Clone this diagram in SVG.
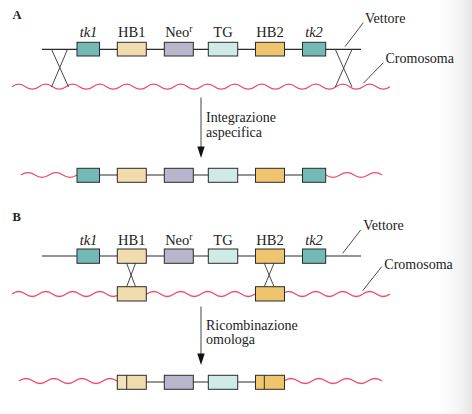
<svg xmlns="http://www.w3.org/2000/svg" width="472" height="414" viewBox="0 0 472 414" font-family="'Liberation Serif', 'Times New Roman', serif">
<defs>
<linearGradient id="edge" x1="0" y1="0" x2="1" y2="0">
<stop offset="0" stop-color="#ffffff" stop-opacity="0"/>
<stop offset="1" stop-color="#e6e6e6"/>
</linearGradient>
</defs>
<style>
text{font-family:"Liberation Serif","Times New Roman",serif;font-size:14px;fill:#222}
.gene{font-size:14.5px}
.ital{font-style:italic}
.panel{font-weight:bold;font-size:12.5px}
.box{stroke:#2b2b2b;stroke-width:1}
.tk{fill:#72bab3}
.hb1{fill:#f0dcad}
.neo{fill:#b8b6cd}
.tg{fill:#d0ebe6}
.hb2{fill:#efc46e}
.wave{fill:none;stroke:#ec4d67;stroke-width:1.3}
.ln{stroke:#2b2b2b;stroke-width:1.2;fill:none}
.thin{stroke:#333;stroke-width:0.9;fill:none}
.arr{stroke:#444;stroke-width:1}
.head{fill:#111}
</style>
<rect x="0" y="0" width="472" height="414" fill="#fff"/>
<rect x="430" y="0" width="42" height="414" fill="url(#edge)"/>

<text class="panel" x="12.5" y="18.5">A</text>
<text class="panel" x="12.5" y="220.7">B</text>

<g id="connectors">
  <path class="wave" d="M12,86.7 q6.75,-5 13.5,0 t13.5,0 t13.5,0 t13.5,0 t13.5,0 t13.5,0 t13.5,0 t13.5,0 t13.5,0 t13.5,0 t13.5,0 t13.5,0 t13.5,0 t13.5,0 t13.5,0 t13.5,0 t13.5,0 t13.5,0 t13.5,0 t13.5,0 t13.5,0 t13.5,0 t13.5,0 t13.5,0 t13.5,0 t13.5,0 t13.5,0 t13.5,0"/>
  <line class="ln" x1="42" y1="49.3" x2="361" y2="49.3"/>
  <line class="thin" x1="51.5" y1="49.3" x2="68.5" y2="87"/>
  <line class="thin" x1="67.5" y1="49.3" x2="51.5" y2="87"/>
  <line class="thin" x1="335.3" y1="49.3" x2="352" y2="87"/>
  <line class="thin" x1="352" y1="49.3" x2="335.3" y2="87"/>
  <line class="thin" x1="345" y1="46.7" x2="363.3" y2="22.7"/>
  <line class="thin" x1="363.3" y1="83.3" x2="383.3" y2="62.7"/>
  <line class="arr" x1="201" y1="97.5" x2="201" y2="148"/>
  <polygon class="head" points="197.3,146.5 204.7,146.5 201,158"/>
  <path class="wave" d="M21,175 q7,-4.6 14,0 t14,0 t14,0 t14,0"/>
  <path class="wave" d="M326,175 q7,4.6 14,0 t14,0 t14,0 t14,0"/>
  <line class="ln" x1="99" y1="175" x2="302" y2="175"/>
  <path class="wave" d="M12,294 q6.75,-5 13.5,0 t13.5,0 t13.5,0 t13.5,0 t13.5,0 t13.5,0 t13.5,0 t13.5,0 t13.5,0 t13.5,0 t13.5,0 t13.5,0 t13.5,0 t13.5,0 t13.5,0 t13.5,0 t13.5,0 t13.5,0 t13.5,0 t13.5,0 t13.5,0 t13.5,0 t13.5,0 t13.5,0 t13.5,0 t13.5,0 t13.5,0 t13.5,0"/>
  <line class="ln" x1="42" y1="256" x2="361" y2="256"/>
  <line class="thin" x1="126.7" y1="263.3" x2="135.5" y2="286.7"/>
  <line class="thin" x1="135.5" y1="263.3" x2="126.7" y2="286.7"/>
  <line class="thin" x1="264.3" y1="263.3" x2="274" y2="286.7"/>
  <line class="thin" x1="274" y1="263.3" x2="264.3" y2="286.7"/>
  <line class="thin" x1="342.7" y1="253.3" x2="360.7" y2="230"/>
  <line class="thin" x1="362.7" y1="290.7" x2="381.7" y2="266.7"/>
  <line class="arr" x1="201" y1="306.5" x2="201" y2="355"/>
  <polygon class="head" points="197.3,353.5 204.7,353.5 201,365"/>
  <path class="wave" d="M19,381 q7,-5 14,0 t14,0 t14,0 t14,0 t14,0 t14,0 t14,0"/>
  <path class="wave" d="M284,381 q7,-5 14,0 t14,0 t14,0 t14,0 t14,0 t14,0 t14,0"/>
  <line class="ln" x1="146" y1="382" x2="255" y2="382"/>
</g>

<g id="labels-A">
  <text x="365" y="22.7">Vettore</text>
  <text x="385.5" y="63">Cromosoma</text>
  <text x="206" y="121.5">Integrazione</text>
  <text x="206" y="136.5">aspecifica</text>
</g>

<g id="A-vector">
  <g id="A-tk1"><rect class="box tk" x="77" y="42.3" width="22.5" height="13.7"/><text class="gene ital" x="88.5" y="37" text-anchor="middle">tk1</text></g>
  <g id="A-HB1"><rect class="box hb1" x="117.3" y="42.3" width="29" height="13.7"/><text class="gene" x="131.8" y="37" text-anchor="middle">HB1</text></g>
  <g id="A-Neo"><rect class="box neo" x="164.3" y="42.3" width="29" height="13.7"/><text class="gene" x="178.8" y="37" text-anchor="middle">Neo<tspan dy="-5" font-size="9.5">r</tspan></text></g>
  <g id="A-TG"><rect class="box tg" x="208.3" y="42.3" width="29.4" height="13.7"/><text class="gene" x="223" y="37" text-anchor="middle">TG</text></g>
  <g id="A-HB2"><rect class="box hb2" x="255.5" y="42.3" width="29" height="13.7"/><text class="gene" x="270" y="37" text-anchor="middle">HB2</text></g>
  <g id="A-tk2"><rect class="box tk" x="302.5" y="42.3" width="23.2" height="13.7"/><text class="gene ital" x="314" y="37" text-anchor="middle">tk2</text></g>
</g>

<g id="A-result">
  <rect class="box tk" x="77" y="168.3" width="22.5" height="14"/>
  <rect class="box hb1" x="117.3" y="168.3" width="29" height="14"/>
  <rect class="box neo" x="164.3" y="168.3" width="29" height="14"/>
  <rect class="box tg" x="208.3" y="168.3" width="29.4" height="14"/>
  <rect class="box hb2" x="255.5" y="168.3" width="29" height="14"/>
  <rect class="box tk" x="302.5" y="168.3" width="23.2" height="14"/>
</g>

<g id="labels-B">
  <text x="363.3" y="230">Vettore</text>
  <text x="384.3" y="269">Cromosoma</text>
  <text x="206" y="329.5">Ricombinazione</text>
  <text x="206" y="344">omologa</text>
</g>

<g id="B-vector">
  <g id="B-tk1"><rect class="box tk" x="77" y="249" width="22.5" height="14.3"/><text class="gene ital" x="88.5" y="245" text-anchor="middle">tk1</text></g>
  <g id="B-HB1"><rect class="box hb1" x="117.3" y="249" width="29" height="14.3"/><text class="gene" x="131.8" y="245" text-anchor="middle">HB1</text></g>
  <g id="B-Neo"><rect class="box neo" x="164.3" y="249" width="29" height="14.3"/><text class="gene" x="178.8" y="245" text-anchor="middle">Neo<tspan dy="-5" font-size="9.5">r</tspan></text></g>
  <g id="B-TG"><rect class="box tg" x="208.3" y="249" width="29.4" height="14.3"/><text class="gene" x="223" y="245" text-anchor="middle">TG</text></g>
  <g id="B-HB2"><rect class="box hb2" x="255.5" y="249" width="29" height="14.3"/><text class="gene" x="270" y="245" text-anchor="middle">HB2</text></g>
  <g id="B-tk2"><rect class="box tk" x="302.5" y="249" width="23.2" height="14.3"/><text class="gene ital" x="314" y="245" text-anchor="middle">tk2</text></g>
</g>

<g id="B-chromosome">
  <g id="B-chr-HB1"><rect class="box hb1" x="117.3" y="286.7" width="29" height="14.3"/></g>
  <g id="B-chr-HB2"><rect class="box hb2" x="255.5" y="286.7" width="29" height="14.3"/></g>
</g>

<g id="B-result">
  <g id="B-res-HB1">
    <rect x="117.3" y="375.3" width="9.4" height="14" fill="#f3e3bc"/>
    <rect x="126.7" y="375.3" width="19.6" height="14" fill="#efdcab"/>
    <rect class="box" x="117.3" y="375.3" width="29" height="14" fill="none"/>
    <line class="box" x1="126.7" y1="375.3" x2="126.7" y2="389.3"/>
  </g>
  <rect class="box neo" x="164.3" y="375.3" width="29" height="14"/>
  <rect class="box tg" x="208.3" y="375.3" width="29.4" height="14"/>
  <g id="B-res-HB2">
    <rect x="255.5" y="375.3" width="8.8" height="14" fill="#f0c872"/>
    <rect x="264.3" y="375.3" width="20.2" height="14" fill="#efc46a"/>
    <rect class="box" x="255.5" y="375.3" width="29" height="14" fill="none"/>
    <line class="box" x1="264.3" y1="375.3" x2="264.3" y2="389.3"/>
  </g>
</g>
</svg>
